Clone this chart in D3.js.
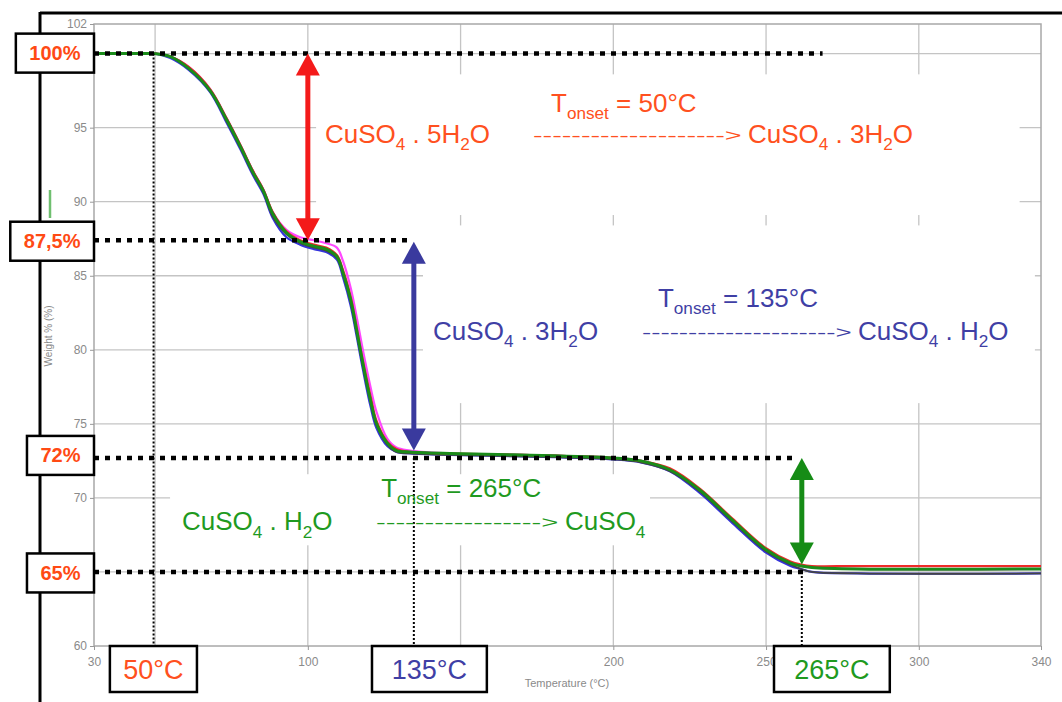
<!DOCTYPE html>
<html>
<head>
<meta charset="utf-8">
<script src="https://cdn.jsdelivr.net/npm/d3@7"></script>
<style>
body { margin: 0; background: #fff; }
svg text { font-family: "Liberation Sans", Arial, sans-serif; }
</style>
</head>
<body>
<svg id="chart" width="1062" height="702"></svg>
<script>
// temperatures (°C) shared by all TGA runs
var temps = [30, 45, 50, 55, 61, 68, 73.5, 78, 82, 85.5, 88.5, 93, 97.5, 102, 106, 109.5, 111.5, 114, 116, 118, 120.5, 122.5, 126, 129, 133.5, 146.5, 170, 200, 209, 218.5, 228.5, 239, 250, 258, 261.5, 265, 280, 340]

// weight % of each run
var runMagenta = [100, 100, 100, 99.8, 99.1, 97.6, 95.6, 93.8, 92.1, 90.8, 89.3, 88.1, 87.6, 87.4, 87.2, 86.9, 86.0, 84.2, 82.2, 80.0, 77.5, 75.8, 74.0, 73.4, 73.2, 73.0, 72.9, 72.7, 72.5, 71.9, 70.5, 68.5, 66.5, 65.6, 65.4, 65.3, 65.2, 65.2]
var runBlue = [100, 100, 100, 99.7, 98.9, 97.4, 95.3, 93.5, 91.8, 90.5, 88.9, 87.6, 87.1, 86.8, 86.6, 86.1, 84.9, 83.0, 80.9, 78.7, 76.2, 74.7, 73.5, 73.1, 73.0, 72.9, 72.8, 72.6, 72.4, 71.8, 70.3, 68.3, 66.3, 65.4, 65.2, 65.0, 64.9, 64.9]
var runBlack = [100, 100, 100, 99.8, 99.0, 97.5, 95.4, 93.6, 91.9, 90.6, 89.0, 87.8, 87.2, 86.9, 86.7, 86.2, 85.1, 83.2, 81.1, 78.9, 76.5, 74.9, 73.6, 73.1, 73.0, 72.9, 72.8, 72.6, 72.4, 71.8, 70.4, 68.4, 66.4, 65.5, 65.2, 65.0, 64.9, 64.9]
var runRed = [100, 100, 100, 99.8, 99.1, 97.6, 95.6, 93.8, 92.1, 90.8, 89.3, 88.0, 87.4, 87.1, 86.9, 86.4, 85.4, 83.6, 81.5, 79.3, 76.9, 75.2, 73.8, 73.3, 73.1, 73.0, 72.9, 72.7, 72.5, 72.0, 70.6, 68.6, 66.6, 65.7, 65.5, 65.4, 65.4, 65.4]
var runGreen = [100, 100, 100, 99.8, 99.0, 97.5, 95.5, 93.7, 92.0, 90.7, 89.2, 87.9, 87.3, 87.0, 86.8, 86.3, 85.2, 83.4, 81.3, 79.1, 76.6, 75.0, 73.7, 73.2, 73.1, 73.0, 72.9, 72.7, 72.5, 71.9, 70.5, 68.5, 66.5, 65.6, 65.4, 65.3, 65.2, 65.2]

// axis ticks (labels only where the picture shows them)
var xTicks = [30, 50, 100, 150, 200, 250, 300, 340]
var xTickLabels = [30, 100, 200, 250, 300, 340]
var yTicks = [60, 65, 70, 75, 80, 85, 90, 95, 100, 102]
var yTickLabels = [60, 70, 75, 80, 85, 90, 95, 102]
var xGrid = [50, 100, 150, 200, 250, 300]
var yGrid = [65, 70, 75, 80, 85, 90, 95, 100]

// plateau levels marked on the left
var levelValues = [100, 87.4, 72.7, 65]
var levelLabels = ["100%", "87,5%", "72%", "65%"]
var levelEnds = [268.5, 134, 260, 263]

// onset temperatures marked at the bottom
var onsetTemps = [49.5, 134.7, 261.7]
var onsetLabels = ["50°C", "135°C", "265°C"]
var onsetFrom = [100, 72.7, 65]

// the three steps
var stepTemps = [100, 134.7, 261.7]
var stepTop = [100, 87.3, 72.7]
var stepBottom = [87.4, 73.2, 65.5]

var svg = d3.select("#chart")

var x = d3.scaleLinear().domain([30, 340]).range([94, 1041])
var y = d3.scaleLinear().domain([60, 102]).range([646, 24])

var red = "#ff5020", blue = "#3f3fa5", green = "#1f9a1f"
var stepColors = ["#f41a1a", "#3a3a9e", "#168c16"]
var textColors = [red, blue, green]

// outer frame of the slide
svg.append("line").attr("x1", 40).attr("x2", 1062).attr("y1", 13).attr("y2", 13)
    .attr("stroke", "#000").attr("stroke-width", 3)
svg.append("line").attr("x1", 40).attr("x2", 40).attr("y1", 12).attr("y2", 702)
    .attr("stroke", "#000").attr("stroke-width", 3)

// grid
svg.selectAll("line.gx").data(xGrid).enter().append("line")
    .attr("class", "gx")
    .attr("x1", function(d) { return x(d) }).attr("x2", function(d) { return x(d) })
    .attr("y1", y(102)).attr("y2", y(60))
    .attr("stroke", "#c4c4c4").attr("stroke-width", 1.3)
svg.selectAll("line.gy").data(yGrid).enter().append("line")
    .attr("class", "gy")
    .attr("x1", x(30)).attr("x2", x(340))
    .attr("y1", function(d) { return y(d) }).attr("y2", function(d) { return y(d) })
    .attr("stroke", "#c4c4c4").attr("stroke-width", 1.3)

// white text areas pasted over the grid
var covers = [[102.7, 333, 98.6, 89.1], [137.7, 338, 88.4, 76.4], [54.9, 212, 71.6, 66.8]]
svg.selectAll("rect.cover").data(covers).enter().append("rect")
    .attr("class", "cover")
    .attr("x", function(d) { return x(d[0]) })
    .attr("width", function(d) { return x(d[1]) - x(d[0]) })
    .attr("y", function(d) { return y(d[2]) })
    .attr("height", function(d) { return y(d[3]) - y(d[2]) })
    .attr("fill", "#fff")

// plot border
svg.append("rect").attr("x", x(30)).attr("y", y(102))
    .attr("width", x(340) - x(30)).attr("height", y(60) - y(102))
    .attr("fill", "none").attr("stroke", "#a8a8a8").attr("stroke-width", 1.5)

// axes
var xAxis = svg.append("g").attr("transform", "translate(0," + y(60) + ")")
    .call(d3.axisBottom(x).tickValues(xTicks).tickSize(4)
        .tickFormat(function(d) { return xTickLabels.indexOf(d) >= 0 ? d : "" }))
var yAxis = svg.append("g").attr("transform", "translate(" + x(30) + ",0)")
    .call(d3.axisLeft(y).tickValues(yTicks).tickSize(4)
        .tickFormat(function(d) { return yTickLabels.indexOf(d) >= 0 ? d : "" }))
;[xAxis, yAxis].forEach(function(a) {
    a.select(".domain").remove()
    a.selectAll("line").attr("stroke", "#999")
    a.selectAll("text").filter(function() { return this.textContent == "" }).remove()
    a.selectAll("text").attr("fill", "#8a8a8a").style("font-size", "12px")
        .style("font-family", "'Liberation Sans', Arial, sans-serif")
})
xAxis.selectAll("text").attr("dy", "1.1em")

svg.append("text").attr("x", 567).attr("y", 687).attr("text-anchor", "middle")
    .attr("fill", "#8a8a8a").style("font-size", "11px").text("Temperature (°C)")
svg.append("text").attr("transform", "translate(52,336) rotate(-90)").attr("text-anchor", "middle")
    .attr("fill", "#8a8a8a").style("font-size", "10px").text("Weight % (%)")
svg.append("line").attr("x1", 50).attr("x2", 50).attr("y1", 190).attr("y2", 218)
    .attr("stroke", "#6fbf6f").attr("stroke-width", 2.5)

// TGA curves
var runs = [
    { w: runMagenta, color: "#ff48ff", width: 2.2 },
    { w: runBlue, color: "#3333dd", width: 2.2 },
    { w: runBlack, color: "#444", width: 1.8 },
    { w: runRed, color: "#ee2a2a", width: 2.2 },
    { w: runGreen, color: "#1a8c1a", width: 3 }
]
var line = d3.line()
    .x(function(d) { return x(d[0]) })
    .y(function(d) { return y(d[1]) })
    .curve(d3.curveCatmullRom.alpha(0.5))

svg.selectAll("path.run").data(runs).enter().append("path")
    .attr("class", "run")
    .attr("d", function(r) { return line(d3.zip(temps, r.w)) })
    .attr("fill", "none")
    .attr("stroke", function(r) { return r.color })
    .attr("stroke-width", function(r) { return r.width })

// dotted guide lines
svg.selectAll("line.level").data(levelValues).enter().append("line")
    .attr("class", "level")
    .attr("x1", x(30)).attr("x2", function(d, i) { return x(levelEnds[i]) })
    .attr("y1", function(d) { return y(d) }).attr("y2", function(d) { return y(d) })
    .attr("stroke", "#000").attr("stroke-width", 4.5).attr("stroke-dasharray", "5,6")
svg.selectAll("line.onset").data(onsetTemps).enter().append("line")
    .attr("class", "onset")
    .attr("x1", function(d) { return x(d) }).attr("x2", function(d) { return x(d) })
    .attr("y1", function(d, i) { return y(onsetFrom[i]) }).attr("y2", y(59.5))
    .attr("stroke", "#000").attr("stroke-width", 2).attr("stroke-dasharray", "2,2")

// double arrows for each step
function drawArrow(t, top, bottom, color) {
    var cx = x(t), y1 = y(top), y2 = y(bottom), hw = 12, hh = 22
    svg.append("line").attr("x1", cx).attr("x2", cx)
        .attr("y1", y1 + hh - 2).attr("y2", y2 - hh + 2)
        .attr("stroke", color).attr("stroke-width", 5)
    svg.append("path")
        .attr("d", "M" + cx + "," + y1 + "L" + (cx - hw) + "," + (y1 + hh) + "L" + (cx + hw) + "," + (y1 + hh) + "Z")
        .attr("fill", color)
    svg.append("path")
        .attr("d", "M" + cx + "," + y2 + "L" + (cx - hw) + "," + (y2 - hh) + "L" + (cx + hw) + "," + (y2 - hh) + "Z")
        .attr("fill", color)
}
stepTemps.forEach(function(t, i) {
    drawArrow(t, stepTop[i], stepBottom[i], stepColors[i])
})

// text with subscripts, parts in [] are subscript
function addText(t, w, parts, color, size) {
    var txt = svg.append("text").attr("x", x(t)).attr("y", y(w))
        .attr("fill", color).style("font-size", size + "px")
    var shift = size * 0.28, down = false
    parts.forEach(function(p) {
        var sub = Array.isArray(p)
        var span = txt.append("tspan").text(sub ? p[0] : p)
        if (sub) {
            span.attr("dy", shift).style("font-size", (size * 0.66) + "px")
            down = true
        } else if (down) {
            span.attr("dy", -shift)
            down = false
        }
    })
    return txt
}
function addDashArrow(t1, t2, w, color, n) {
    svg.append("text").attr("x", x(t1)).attr("y", y(w) - 2)
        .attr("fill", color).style("font-size", "16px")
        .attr("textLength", x(t2) - x(t1)).attr("lengthAdjust", "spacingAndGlyphs")
        .text(d3.range(n).map(function() { return "-" }).join("") + ">")
}

// step 1
addText(179.6, 96.05, ["T", ["onset"], " = 50°C"], red, 26)
addText(105.6, 93.95, ["CuSO", ["4"], " . 5H", ["2"], "O"], red, 26)
addDashArrow(173.7, 242, 93.95, red, 20)
addText(244.1, 93.95, ["CuSO", ["4"], " . 3H", ["2"], "O"], red, 26)

// step 2
addText(214.6, 82.9, ["T", ["onset"], " = 135°C"], blue, 26)
addText(141, 80.65, ["CuSO", ["4"], " . 3H", ["2"], "O"], blue, 26)
addDashArrow(209.4, 278, 80.65, blue, 21)
addText(280.1, 80.65, ["CuSO", ["4"], " . H", ["2"], "O"], blue, 26)

// step 3
addText(124, 70.05, ["T", ["onset"], " = 265°C"], green, 26)
addText(58.8, 67.8, ["CuSO", ["4"], " . H", ["2"], "O"], green, 26)
addDashArrow(122.3, 182, 67.8, green, 17)
addText(184.2, 67.8, ["CuSO", ["4"]], green, 26)

// boxed level labels on the left
var levelBox = svg.selectAll("g.levelBox").data(levelValues).enter().append("g")
    .attr("class", "levelBox")
levelBox.append("text")
    .attr("text-anchor", "middle").attr("dy", "0.35em")
    .attr("fill", "#ff4a14").style("font-size", "20px").style("font-weight", "bold")
    .text(function(d, i) { return levelLabels[i] })
levelBox.each(function(d, i) {
    var g = d3.select(this)
    var tw = g.select("text").node().getComputedTextLength()
    var bw = tw + 27, bh = 39
    var cy = y(d) + (i == 0 ? -0.5 : i == 2 ? -2.5 : 1)
    g.insert("rect", "text")
        .attr("x", x(30) - bw).attr("y", cy - bh / 2)
        .attr("width", bw).attr("height", bh)
        .attr("fill", "#fff").attr("stroke", "#000").attr("stroke-width", 2.5)
    g.select("text").attr("x", x(30) - bw / 2).attr("y", cy)
})

// boxed onset labels at the bottom
var onsetBoxes = [[35.2, 63.7], [121, 158.6], [252.6, 290.5]]
onsetBoxes.forEach(function(b, i) {
    svg.append("rect")
        .attr("x", x(b[0])).attr("y", y(60))
        .attr("width", x(b[1]) - x(b[0])).attr("height", 46)
        .attr("fill", "#fff").attr("stroke", "#000").attr("stroke-width", 2.5)
    svg.append("text")
        .attr("x", (x(b[0]) + x(b[1])) / 2).attr("y", y(60) + 33)
        .attr("text-anchor", "middle")
        .attr("fill", textColors[i]).style("font-size", "27px")
        .text(onsetLabels[i])
})
</script>
</body>
</html>
